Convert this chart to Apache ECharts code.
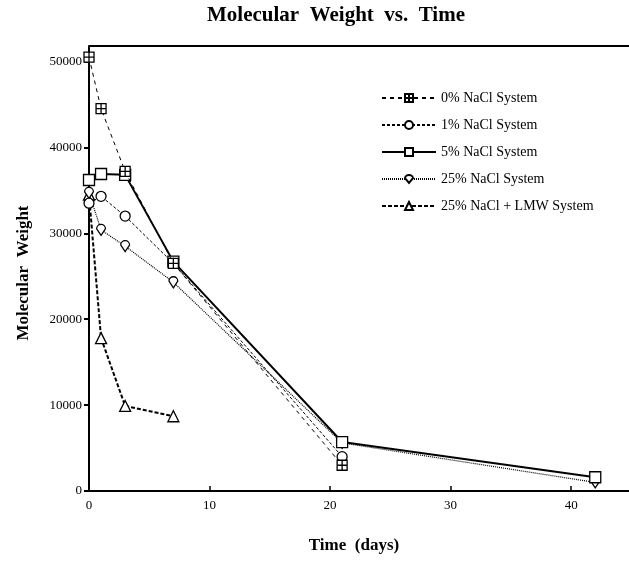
<!DOCTYPE html>
<html>
<head>
<meta charset="utf-8">
<script src="https://cdn.jsdelivr.net/npm/echarts@6/dist/echarts.min.js"></script>
<style>html,body{margin:0;padding:0;background:#fff}#c{width:629px;height:565px}</style>
</head>
<body>
<div id="c"></div>
<script>
var days = [0, 1, 3, 7, 21, 42];
var nacl0 = [50500, 44500, 37200, 26500, 3000, null];
var nacl1 = [33500, 34300, 32000, 26500, 4000, null];
var nacl5 = [36200, 36900, 36800, 26700, 5700, 1600];
var nacl25 = [34700, 30400, 28500, 24300, 5600, 1000];
var lmw = [34500, 17800, 9900, 8700, null, null];
var seriesNames = ['0% NaCl System', '1% NaCl System', '5% NaCl System', '25% NaCl System', '25% NaCl + LMW System'];
var yTicks = [0, 10000, 20000, 30000, 40000, 50000];
var xTicks = [0, 10, 20, 30, 40];

function pairs(vals) {
  var out = [];
  for (var i = 0; i < days.length; i++) if (vals[i] !== null) out.push([days[i], vals[i]]);
  return out;
}
var FONT = '"Liberation Serif", "DejaVu Serif", serif';
var symCross = 'path://M0,0H10V10H0Z M5,0V10 M0,5H10';
var symShield = 'path://M1,4 A4,4 0 1 1 9,4 L5,10 Z';
var styles = [
  {sym: symCross, size: 10, line: {type: [4, 4], width: 1}},
  {sym: 'circle', size: 10, line: {type: [3, 2], width: 1}},
  {sym: 'rect', size: 11, line: {type: 'solid', width: 2}},
  {sym: symShield, size: 11, line: {type: [1, 1], width: 1.2}},
  {sym: 'triangle', size: 11, line: {type: [4, 2], width: 2}}
];
var allVals = [nacl0, nacl1, nacl5, nacl25, lmw];
var series = allVals.map(function (v, i) {
  var s = styles[i];
  return {
    name: seriesNames[i], type: 'line', data: pairs(v),
    symbol: s.sym, symbolSize: s.size, symbolKeepAspect: true,
    showAllSymbol: true,
    lineStyle: {color: '#000', width: s.line.width, type: s.line.type},
    itemStyle: {color: '#fff', borderColor: '#000', borderWidth: 1.3},
    z: 10 - i
  };
});

var chart = echarts.init(document.getElementById('c'), null, {renderer: 'canvas'});
chart.setOption({
  animation: false,
  backgroundColor: '#fff',
  grid: {left: 89, top: 46, right: 0, bottom: 74, containLabel: false},
  xAxis: {
    type: 'value', min: 0, max: 44.8, interval: 10,
    axisLine: {onZero: false, lineStyle: {color: '#000', width: 2}},
    axisTick: {inside: true, length: 5, lineStyle: {color: '#000', width: 1.5}},
    axisLabel: {color: '#000', fontFamily: FONT, fontSize: 13, margin: 8, showMaxLabel: false,
      formatter: function (v) { return xTicks.indexOf(v) >= 0 ? String(v) : ''; }},
    splitLine: {show: false}
  },
  yAxis: {
    type: 'value', min: 0, max: 51800, interval: 10000,
    axisLine: {onZero: false, lineStyle: {color: '#000', width: 2}},
    axisTick: {inside: false, length: 5, lineStyle: {color: '#000', width: 2}},
    axisLabel: {color: '#000', fontFamily: FONT, fontSize: 13, margin: 7, showMaxLabel: false,
      formatter: function (v) { return yTicks.indexOf(v) >= 0 ? String(v) : ''; }},
    splitLine: {show: false}
  },
  legend: {
    orient: 'vertical', left: 376, top: 86, itemWidth: 54, itemHeight: 10, itemGap: 13,
    textStyle: {color: '#000', fontFamily: FONT, fontSize: 14},
    data: seriesNames
  },
  graphic: [
    {type: 'line', shape: {x1: 89, y1: 46, x2: 629, y2: 46}, style: {stroke: '#000', lineWidth: 2}},
    {type: 'text', x: 336, y: 16, style: {text: 'Molecular  Weight  vs.  Time', font: 'bold 21px ' + FONT, fill: '#000', textAlign: 'center', textVerticalAlign: 'middle'}},
    {type: 'text', x: 354, y: 546, style: {text: 'Time  (days)', font: 'bold 17px ' + FONT, fill: '#000', textAlign: 'center', textVerticalAlign: 'middle'}},
    {type: 'text', x: 24, y: 273, rotation: Math.PI / 2, style: {text: 'Molecular  Weight', font: 'bold 17px ' + FONT, fill: '#000', textAlign: 'center', textVerticalAlign: 'middle'}}
  ],
  series: series
});
</script>
</body>
</html>
